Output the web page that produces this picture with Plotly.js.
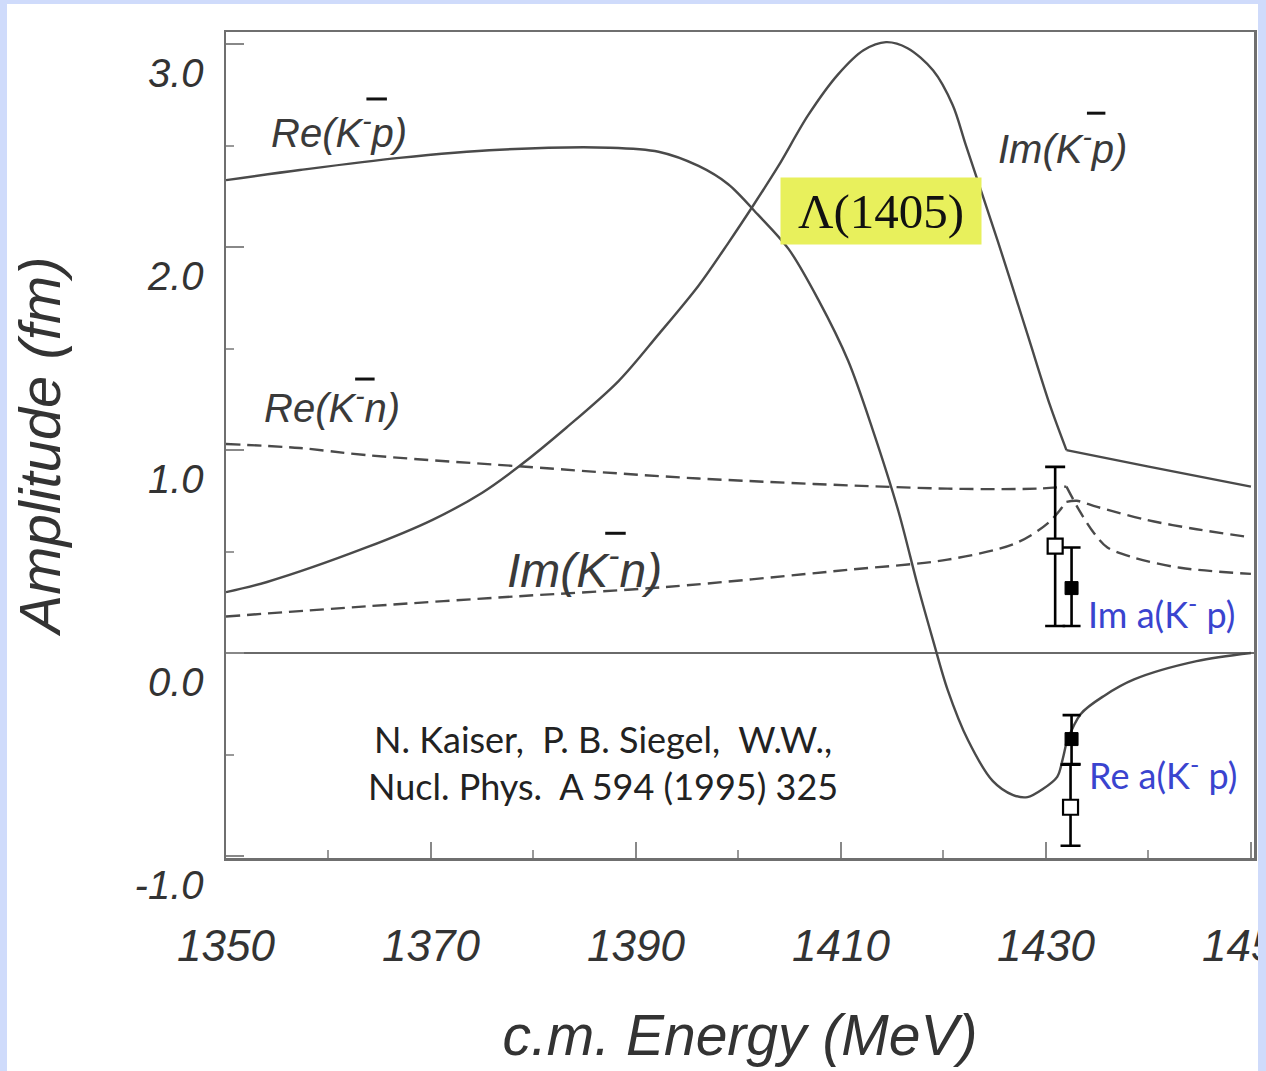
<!DOCTYPE html>
<html>
<head>
<meta charset="utf-8">
<script src="https://cdn.plot.ly/plotly-3.0.1.min.js"></script>
<style>
  html, body { margin: 0; padding: 0; background: #cfdbfb; width: 1266px; height: 1071px; overflow: hidden; }
  #chart { position: absolute; left: 7px; top: 4px; width: 1300px; height: 1067px; }
  #rightstrip { position: absolute; left: 1258px; top: 0; width: 8px; height: 1071px; background: #cfdbfb; z-index: 10; }
</style>
</head>
<body>
<div id="chart"></div>
<div id="rightstrip"></div>
<script>
// ---- Data ----
const kpThreshold = 1432.0;   // cusp energy of the curves

const reKpEnergy = [1350, 1357.2, 1366.9, 1376.7, 1387.4, 1392.2, 1396.1, 1399.0, 1401.9, 1404.9, 1407.8, 1410.7, 1413.1, 1415.6, 1417.5, 1419.0, 1420.4, 1422.4, 1424.8, 1426.8, 1428.2, 1429.7, 1431.1, 1431.6, 1432.0, 1433.4, 1435.7, 1438.6, 1444.7, 1450];
const reKpAmp    = [2.33, 2.38, 2.44, 2.48, 2.49, 2.47, 2.40, 2.31, 2.16, 1.99, 1.74, 1.44, 1.10, 0.70, 0.33, 0.06, -0.18, -0.43, -0.63, -0.70, -0.71, -0.67, -0.61, -0.53, -0.44, -0.30, -0.21, -0.13, -0.04, 0.00];

const imKpEnergy = [1350, 1354, 1363.7, 1370.1, 1375, 1378.6, 1383.2, 1388.3, 1392.2, 1396.1, 1399, 1401.5, 1403.9, 1406.8, 1409.7, 1412.2, 1414.4, 1416.5, 1419.0, 1420.9, 1422.2, 1425.3, 1428.2, 1430.4, 1432.0, 1439.9, 1450];
const imKpAmp    = [0.30, 0.35, 0.52, 0.655, 0.79, 0.92, 1.11, 1.34, 1.57, 1.81, 2.02, 2.21, 2.40, 2.65, 2.85, 2.97, 3.01, 2.98, 2.87, 2.70, 2.50, 2.03, 1.57, 1.22, 1.00, 0.92, 0.82];

const reKnEnergy = [1350, 1357.2, 1363.7, 1378.6, 1396.1, 1420.4, 1429.2, 1432.0, 1433.4, 1434.7, 1436.0, 1438.6, 1443.1, 1450];
const reKnAmp    = [1.03, 1.01, 0.975, 0.92, 0.86, 0.81, 0.81, 0.82, 0.69, 0.59, 0.52, 0.47, 0.42, 0.39];

const imKnEnergy = [1350, 1363.7, 1378.6, 1392.9, 1410.7, 1420.4, 1427, 1430.2, 1432.0, 1433.0, 1435, 1439.9, 1444.7, 1450];
const imKnAmp    = [0.18, 0.23, 0.28, 0.325, 0.41, 0.46, 0.54, 0.64, 0.745, 0.75, 0.72, 0.655, 0.61, 0.57];

// experimental scattering lengths at K-p threshold
const openEnergy   = [1430.9, 1432.4];
const openAmp      = [0.527, -0.76];
const openErrPlus  = [0.39, 0.21];
const openErrMinus = [0.394, 0.19];

const filledEnergy   = [1432.5, 1432.5];
const filledAmp      = [0.32, -0.424];
const filledErrPlus  = [0.20, 0.118];
const filledErrMinus = [0.187, 0.123];

const xTickVals = [1350, 1370, 1390, 1410, 1430, 1450];
const xTickText = ['1350', '1370', '1390', '1410', '1430', '1450'];
const yTickVals = [-1, 0, 1, 2, 3];
const yTickText = ['-1.0', '0.0', '1.0', '2.0', '3.0'];

// ---- Styling ----
const curveColor = '#4a4a4a';
const labelFont = {family: 'Liberation Sans, Arial, sans-serif', size: 40, color: '#3a3a3a', style: 'italic'};

// split a curve at the threshold so the cusp stays sharp (both pieces share the cusp point)
function splitCurve(E, v, thr, lineStyle) {
  const lowX = [], lowY = [], highX = [], highY = [];
  for (let i = 0; i < E.length; i++) {
    if (E[i] <= thr) { lowX.push(E[i]); lowY.push(v[i]); }
    if (E[i] >= thr) { highX.push(E[i]); highY.push(v[i]); }
  }
  const base = {mode: 'lines', line: lineStyle, hoverinfo: 'skip'};
  return [Object.assign({x: lowX, y: lowY}, base), Object.assign({x: highX, y: highY}, base)];
}

const solid = {color: curveColor, width: 2.4, shape: 'spline', smoothing: 0.9};
const dashed = {color: curveColor, width: 2.4, dash: '14px,7px', shape: 'spline', smoothing: 0.9};

const traces = [].concat(
  splitCurve(reKpEnergy, reKpAmp, kpThreshold, solid),
  splitCurve(imKpEnergy, imKpAmp, kpThreshold, solid),
  splitCurve(reKnEnergy, reKnAmp, kpThreshold, dashed),
  splitCurve(imKnEnergy, imKnAmp, kpThreshold, dashed),
  [
    {x: openEnergy, y: openAmp, mode: 'markers', name: 'open',
     marker: {symbol: 'square', size: 15, color: '#ffffff', line: {color: '#000', width: 2.2}},
     error_y: {type: 'data', array: openErrPlus, arrayminus: openErrMinus, symmetric: false, color: '#000', thickness: 2.6, width: 10}},
    {x: filledEnergy, y: filledAmp, mode: 'markers', name: 'filled',
     marker: {symbol: 'square', size: 13, color: '#000', line: {color: '#000', width: 1}},
     error_y: {type: 'data', array: filledErrPlus, arrayminus: filledErrMinus, symmetric: false, color: '#000', thickness: 2.6, width: 9}}
  ]
);

const annotations = [
  {x: 1361.0, y: 2.576, xref: 'x', yref: 'y', text: 'Re(K<sup>-</sup>p)', showarrow: false, font: labelFont},
  {x: 1431.6, y: 2.50, xref: 'x', yref: 'y', text: 'Im(K<sup>-</sup>p)', showarrow: false, font: labelFont},
  {x: 1360.3, y: 1.22, xref: 'x', yref: 'y', text: 'Re(K<sup>-</sup>n)', showarrow: false, font: labelFont},
  {x: 1385.0, y: 0.424, xref: 'x', yref: 'y', text: 'Im(K<sup>-</sup>n)', showarrow: false,
   font: {family: 'Liberation Sans, Arial, sans-serif', size: 48, color: '#3a3a3a', style: 'italic'}},
  {x: 1413.9, y: 2.177, xref: 'x', yref: 'y', text: 'Λ(1405)', showarrow: false,
   font: {family: 'Liberation Serif, Times New Roman, serif', size: 49, color: '#111'},
   bgcolor: '#e8f05c', width: 196, height: 62, borderpad: 2},
  {x: 1386.8, y: -0.54, xref: 'x', yref: 'y', text: 'N. Kaiser,  P. B. Siegel,  W.W.,<br>Nucl. Phys.  A 594 (1995) 325', showarrow: false,
   font: {family: 'Lato, Open Sans, sans-serif', size: 36, color: '#222'}, align: 'center'},
  {x: 1441.3, y: 0.20, xref: 'x', yref: 'y', text: 'Im a(K<sup>-</sup> p)', showarrow: false,
   font: {family: 'Lato, Open Sans, sans-serif', size: 36, color: '#3a44cf'}},
  {x: 1441.4, y: -0.59, xref: 'x', yref: 'y', text: 'Re a(K<sup>-</sup> p)', showarrow: false,
   font: {family: 'Lato, Open Sans, sans-serif', size: 36, color: '#3a44cf'}}
];

// overbars drawn above the K symbols of the labels
const barLine = {color: '#111', width: 3};
const shapes = [
  {type: 'line', xref: 'x', yref: 'y', x0: 1363.7, x1: 1365.7, y0: 2.73, y1: 2.73, line: barLine},
  {type: 'line', xref: 'x', yref: 'y', x0: 1434.0, x1: 1435.8, y0: 2.66, y1: 2.66, line: barLine},
  {type: 'line', xref: 'x', yref: 'y', x0: 1362.6, x1: 1364.5, y0: 1.35, y1: 1.35, line: barLine},
  {type: 'line', xref: 'x', yref: 'y', x0: 1387.0, x1: 1389.0, y0: 0.59, y1: 0.59, line: barLine}
];

const axisFont = {family: 'Liberation Sans, Arial, sans-serif', size: 44, color: '#333', style: 'italic'};

const layout = {
  width: 1300, height: 1067,
  margin: {l: 219, r: 53, t: 28, b: 213, pad: 0},
  paper_bgcolor: '#ffffff',
  plot_bgcolor: '#ffffff',
  showlegend: false,
  xaxis: {
    range: [1350, 1450.3],
    tickvals: xTickVals, ticktext: xTickText,
    ticks: 'inside', ticklen: 16, tickwidth: 2, tickcolor: '#888',
    minor: {dtick: 10, tick0: 1350, ticks: 'inside', ticklen: 8, tickwidth: 2, tickcolor: '#999', showgrid: false},
    showgrid: false, zeroline: false,
    showline: true, linecolor: '#6f6f6f', linewidth: 2.5, mirror: true,
    tickfont: axisFont,
    ticklabelstandoff: 48,
    title: {text: 'c.m. Energy (MeV)', font: {family: 'Liberation Sans, Arial, sans-serif', size: 57, color: '#333', style: 'italic'}, standoff: 46}
  },
  yaxis: {
    range: [-1.01, 3.06],
    tickvals: yTickVals, ticktext: yTickText,
    ticks: 'inside', ticklen: 18, tickwidth: 2, tickcolor: '#888',
    minor: {dtick: 0.5, tick0: 0, ticks: 'inside', ticklen: 8, tickwidth: 2, tickcolor: '#999', showgrid: false},
    showgrid: false,
    zeroline: true, zerolinecolor: '#6a6a6a', zerolinewidth: 2.2,
    showline: true, linecolor: '#6f6f6f', linewidth: 2.5, mirror: true,
    tickfont: {family: 'Liberation Sans, Arial, sans-serif', size: 40, color: '#333', style: 'italic'},
    ticklabelposition: 'outside bottom',
    ticklabelstandoff: 12,
    title: {text: 'Amplitude (fm)', font: {family: 'Liberation Sans, Arial, sans-serif', size: 58, color: '#333', style: 'italic'}, standoff: 56}
  },
  annotations: annotations,
  shapes: shapes
};

Plotly.newPlot('chart', traces, layout, {displayModeBar: false, staticPlot: true});
</script>
</body>
</html>
